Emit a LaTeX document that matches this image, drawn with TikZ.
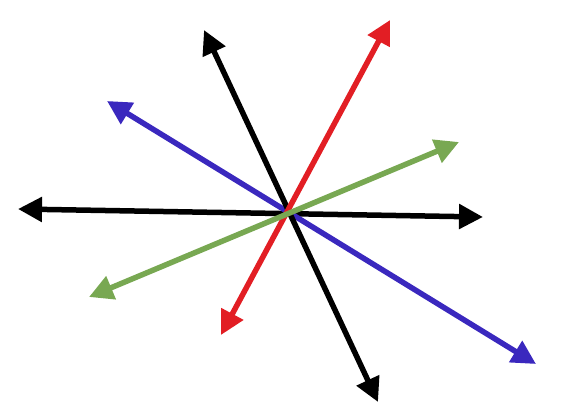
\documentclass[tikz,border=0pt]{standalone}
\usetikzlibrary{arrows.meta}
\definecolor{cred}{RGB}{226,30,36}
\definecolor{cblue}{RGB}{58,40,190}
\definecolor{cgreen}{RGB}{120,168,82}
\tikzset{vec/.style={line width=5.5pt,{Triangle[length=24pt,width=24pt]}-{Triangle[length=24pt,width=24pt]}}}
\begin{document}
\begin{tikzpicture}[x=1pt,y=-1pt]
\useasboundingbox (0,0) rectangle (561,419);
\coordinate (hL) at (18,209);
\coordinate (hR) at (483,217);
\coordinate (kT) at (204,30);
\coordinate (kB) at (378,402);
\coordinate (rT) at (390,20);
\coordinate (rB) at (221,335);
\coordinate (bT) at (107,101);
\coordinate (bB) at (536,364);
\coordinate (gT) at (459,142);
\coordinate (gB) at (89,297);
\draw[vec,black] (hL) -- (hR);
\draw[vec,cblue] (bT) -- (bB);
\draw[vec,black] (kT) -- (kB);
\draw[vec,cred] (rB) -- (rT);
\draw[vec,cgreen] (gB) -- (gT);
\end{tikzpicture}
\end{document}
